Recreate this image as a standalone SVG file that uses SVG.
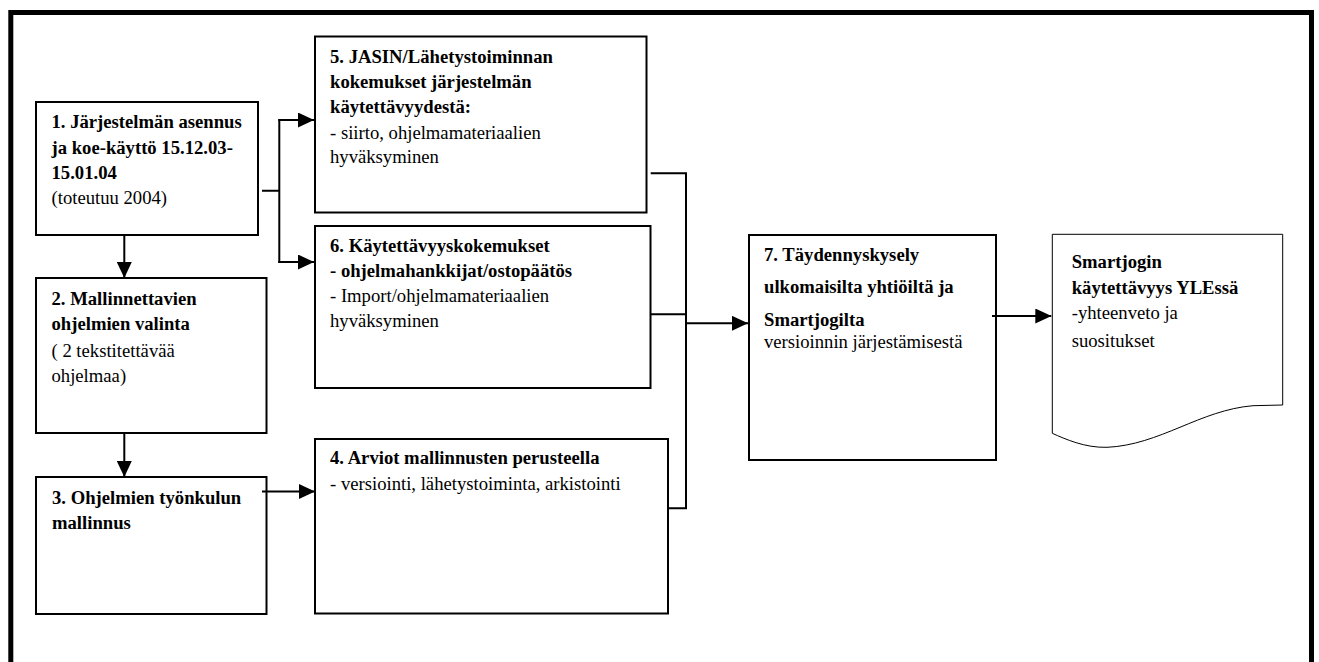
<svg xmlns="http://www.w3.org/2000/svg" width="1319" height="662" viewBox="0 0 1319 662">
<style>
.box{fill:#fff;stroke:#000;stroke-width:2}
.doc{fill:#fff;stroke:#000;stroke-width:1}
.t{font-family:"Liberation Serif","Times New Roman",serif;font-size:18.67px;fill:#000}
.b{font-weight:bold}
.c{fill:none;stroke:#000;stroke-width:2}
</style>
<defs>
<marker id="ah" markerUnits="userSpaceOnUse" viewBox="0 0 16 15" refX="16" refY="7.5" markerWidth="16" markerHeight="15" orient="auto">
<path d="M0,0 L16,7.5 L0,15 Z" fill="#000"/>
</marker>
</defs>
<rect x="0" y="0" width="1319" height="662" fill="#fff"/>
<rect id="frame" x="10.8" y="12.5" width="1300.7" height="700" fill="none" stroke="#000" stroke-width="5"/>

<g id="n1">
<rect class="box" x="36" y="102" width="222" height="133"/>
<text class="t b" x="51.5" y="128">1. Järjestelmän asennus</text>
<text class="t b" x="51.5" y="153.5">ja koe-käyttö 15.12.03-</text>
<text class="t b" x="51.5" y="179">15.01.04</text>
<text class="t" x="51.5" y="204">(toteutuu 2004)</text>
</g>
<g id="n5">
<rect class="box" x="315" y="36.5" width="331.5" height="176"/>
<text class="t b" x="330" y="63">5. JASIN/Lähetystoiminnan</text>
<text class="t b" x="330" y="87.5">kokemukset järjestelmän</text>
<text class="t b" x="330" y="113">käytettävyydestä:</text>
<text class="t" x="330" y="139">- siirto, ohjelmamateriaalien</text>
<text class="t" x="330" y="163">hyväksyminen</text>
</g>
<g id="n6">
<rect class="box" x="315" y="226" width="335.5" height="162"/>
<text class="t b" x="330" y="252">6. Käytettävyyskokemukset</text>
<text class="t b" x="330" y="276.5">- ohjelmahankkijat/ostopäätös</text>
<text class="t" x="330" y="301.5">- Import/ohjelmamateriaalien</text>
<text class="t" x="330" y="326.5">hyväksyminen</text>
</g>
<g id="n2">
<rect class="box" x="36" y="278" width="230.5" height="155"/>
<text class="t b" x="51.5" y="305">2. Mallinnettavien</text>
<text class="t b" x="51.5" y="330">ohjelmien valinta</text>
<text class="t" x="51.5" y="356.5">( 2 tekstitettävää</text>
<text class="t" x="51.5" y="381.5">ohjelmaa)</text>
</g>
<g id="n3">
<rect class="box" x="36" y="477" width="230.5" height="137"/>
<text class="t b" x="52" y="504">3. Ohjelmien työnkulun</text>
<text class="t b" x="52" y="529">mallinnus</text>
</g>
<g id="n4">
<rect class="box" x="315" y="439" width="353" height="174.5"/>
<text class="t b" x="330" y="464">4. Arviot mallinnusten perusteella</text>
<text class="t" x="330" y="490">- versiointi, lähetystoiminta, arkistointi</text>
</g>
<g id="n7">
<rect class="box" x="749" y="235" width="247" height="225"/>
<text class="t b" x="764" y="261">7. Täydennyskysely</text>
<text class="t b" x="764" y="293">ulkomaisilta yhtiöiltä ja</text>
<text class="t b" x="764" y="325.5">Smartjogilta</text>
<text class="t" x="764" y="348">versioinnin järjestämisestä</text>
</g>
<g id="n8">
<path class="doc" d="M1052.3,234.3 H1282.7 V405 L1253,405.7 C1200,410 1160,445 1107,447.3 C1085,448 1065,439 1052.3,433.3 Z"/>
<text class="t b" x="1071.7" y="267.5">Smartjogin</text>
<text class="t b" x="1071.7" y="293.5">käytettävyys YLEssä</text>
<text class="t" x="1071.7" y="319">-yhteenveto ja</text>
<text class="t" x="1071.7" y="346.5">suositukset</text>
</g>

<g id="connectors">
<path class="c" d="M262,190.7 H279.3 M279.3,119 V263"/>
<path class="c" d="M278.3,120 H314" marker-end="url(#ah)"/>
<path class="c" d="M278.3,262 H314" marker-end="url(#ah)"/>
<path class="c" d="M124.3,235 V278" marker-end="url(#ah)"/>
<path class="c" d="M124.3,433 V477" marker-end="url(#ah)"/>
<path class="c" d="M262,491.5 H315" marker-end="url(#ah)"/>
<path class="c" d="M650.7,173.3 H686 V508.3 H668.3 M650.7,314.3 H686"/>
<path class="c" d="M686,323.3 H748" marker-end="url(#ah)"/>
<path class="c" d="M992,316 H1051.3" marker-end="url(#ah)"/>
</g>
</svg>
